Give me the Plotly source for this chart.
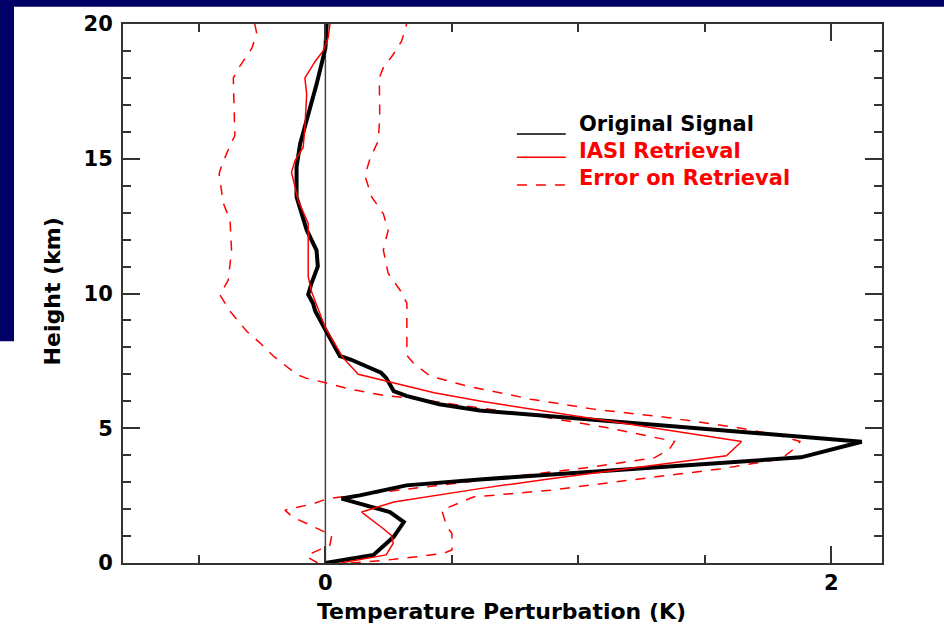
import plotly.graph_objects as go

# Temperature perturbation profiles (K) against height (km)
signal_x = [0.0, 0.19, 0.27, 0.31, 0.255, 0.16, 0.064, 0.136, 0.32, 0.61, 1.88, 2.12,
            0.61, 0.45, 0.32, 0.27, 0.24, 0.22, 0.10, 0.057, 0.0, -0.04, -0.049, -0.068,
            -0.055, -0.03, -0.035, -0.074, -0.114, -0.114, -0.10, -0.081, -0.035, 0.0, 0.005]
signal_y = [0.0, 0.3, 0.97, 1.52, 1.89, 2.14, 2.39, 2.51, 2.88, 3.1, 3.92, 4.5,
            5.66, 5.89, 6.2, 6.38, 6.87, 7.06, 7.55, 7.68, 8.67, 9.34, 9.64, 9.96,
            10.38, 11.0, 11.6, 12.36, 13.58, 14.7, 15.55, 16.16, 17.76, 19.1, 20.0]

iasi_x = [0.06, 0.24, 0.268, 0.26, 0.228, 0.143, 0.27, 0.61, 0.89, 1.585, 1.645, 0.61,
          0.43, 0.24, 0.13, 0.07, 0.0, -0.055, -0.068, -0.068, -0.108, -0.12, -0.134,
          -0.12, -0.088, -0.081, -0.074, -0.081, -0.04, -0.009, 0.011, 0.018]
iasi_y = [0.0, 0.3, 0.73, 1.03, 1.28, 1.89, 2.26, 2.76, 3.13, 3.98, 4.51, 6.01,
          6.32, 6.75, 7.0, 7.61, 8.72, 10.07, 10.63, 12.6, 13.46, 13.95, 14.5,
          14.93, 15.42, 16.16, 17.39, 18.0, 18.62, 19.0, 19.5, 20.0]

err_lo_x = [-0.03, -0.074, -0.055, 0.018, 0.025, -0.048, -0.13, -0.16, -0.048, 0.01,
            0.65, 1.045, 1.30, 1.36, 1.38, 1.27, 1.11, 0.875, 0.32, 0.242, 0.097, 0.0,
            -0.074, -0.114, -0.206, -0.259, -0.311, -0.377, -0.417, -0.384, -0.371,
            -0.377, -0.404, -0.42, -0.41, -0.377, -0.358, -0.364, -0.338, -0.29,
            -0.272, -0.279]
err_lo_y = [0.0, 0.23, 0.36, 0.66, 1.03, 1.34, 1.71, 1.96, 2.2, 2.39,
            3.12, 3.55, 3.90, 4.23, 4.51, 4.72, 5.03, 5.40, 6.14, 6.2, 6.45, 6.69,
            6.85, 7.0, 7.68, 8.17, 8.6, 9.34, 9.95, 10.5, 11.61,
            12.72, 13.36, 14.44, 14.75, 15.49, 15.86, 18.0, 18.44, 19.11,
            19.67, 20.0]

err_hi_x = [0.1, 0.215, 0.36, 0.467, 0.5, 0.5, 0.48, 0.46, 0.585, 0.89, 1.18, 1.56,
            1.80, 1.86, 1.876, 1.80, 1.625, 1.35, 1.06, 0.81, 0.69, 0.558, 0.413,
            0.347, 0.322, 0.322, 0.294, 0.248, 0.229, 0.248, 0.229, 0.183, 0.156,
            0.176, 0.209, 0.215, 0.213, 0.229, 0.268, 0.301, 0.321]
err_hi_y = [0.0, 0.08, 0.23, 0.36, 0.48, 1.1, 1.34, 1.96, 2.45, 2.7, 3.05, 3.49,
            3.86, 4.29, 4.51, 4.72, 5.03, 5.4, 5.71, 6.08, 6.32, 6.57, 6.94,
            7.43, 7.7, 9.64, 10.14, 10.75, 11.61, 12.35, 12.96, 13.58, 14.38,
            14.99, 15.67, 16.53, 18.0, 18.38, 18.87, 19.36, 20.0]

zero_x = [0, 0]
zero_y = [0, 20]

x_ticks = [0, 2]
x_ticktext = ["0", "2"]
y_ticks = [0, 5, 10, 15, 20]
y_ticktext = ["0", "5", "10", "15", "20"]

legend_labels = ["Original Signal", "IASI Retrieval", "Error on Retrieval"]
legend_colors = ["#000000", "#ff0000", "#ff0000"]
legend_dash = ["solid", "solid", "10px,9px"]

RED = "#ff0000"
NAVY = "#000066"
FONT = "DejaVu Sans"
DASH = "10px,9px"

fig = go.Figure()
fig.add_trace(go.Scatter(x=zero_x, y=zero_y, mode="lines",
                         line=dict(color="#444444", width=1.5)))
fig.add_trace(go.Scatter(x=err_lo_x, y=err_lo_y, mode="lines",
                         line=dict(color=RED, width=1.5, dash=DASH)))
fig.add_trace(go.Scatter(x=err_hi_x, y=err_hi_y, mode="lines",
                         line=dict(color=RED, width=1.5, dash=DASH)))
fig.add_trace(go.Scatter(x=signal_x, y=signal_y, mode="lines",
                         line=dict(color="#000000", width=4)))
fig.add_trace(go.Scatter(x=iasi_x, y=iasi_y, mode="lines",
                         line=dict(color=RED, width=1.5)))

# Hand-drawn key in the upper right of the plot
shapes = []
annotations = []
key_x0, key_x1, key_text_x = 0.757, 0.95, 0.995
key_line_y = [15.92, 15.06, 14.03]
key_text_y = [16.3, 15.3, 14.27]
for lab, col, dsh, ly, ty in zip(legend_labels, legend_colors, legend_dash,
                                 key_line_y, key_text_y):
    shapes.append(dict(type="line", xref="x", yref="y", x0=key_x0, x1=key_x1,
                       y0=ly, y1=ly, line=dict(color=col, width=1.5, dash=dsh)))
    annotations.append(dict(x=key_text_x, y=ty, xref="x", yref="y",
                            text="<b>%s</b>" % lab,
                            showarrow=False, xanchor="left", yanchor="middle",
                            font=dict(family=FONT, size=21, color=col)))

# Axis titles
annotations.append(dict(x=0.4993, y=-0.0904, xref="paper", yref="paper",
                        text="<b>Temperature Perturbation (K)</b>", showarrow=False,
                        xanchor="center", yanchor="middle",
                        font=dict(family=FONT, size=22, color="#000")))
annotations.append(dict(x=-0.0935, y=0.504, xref="paper", yref="paper",
                        text="<b>Height (km)</b>", showarrow=False, textangle=-90,
                        xanchor="center", yanchor="middle",
                        font=dict(family=FONT, size=22, color="#000")))

# Navy slide frame along the top and left edges
shapes.append(dict(type="rect", xref="paper", yref="paper", x0=-0.17, x1=1.09,
                   y0=1.032, y1=1.05, fillcolor=NAVY, line=dict(width=0), layer="below"))
shapes.append(dict(type="rect", xref="paper", yref="paper", x0=-0.17, x1=-0.1436,
                   y0=0.4114, y1=1.05, fillcolor=NAVY, line=dict(width=0), layer="below"))

axis_common = dict(showgrid=False, zeroline=False, showline=True, linecolor="#333333",
                   linewidth=2, mirror="allticks", ticks="inside", ticklen=17,
                   tickwidth=2, tickcolor="#333333",
                   tickfont=dict(family=FONT, size=21, color="#000", weight="bold"))

fig.update_layout(
    width=944, height=644,
    margin=dict(l=123, r=62, t=21, b=81),
    paper_bgcolor="white", plot_bgcolor="white",
    showlegend=False,
    shapes=shapes, annotations=annotations,
    xaxis=dict(range=[-0.8, 2.2], tickmode="array", tickvals=x_ticks,
               ticktext=x_ticktext,
               minor=dict(dtick=0.5, tick0=0, ticks="inside", ticklen=8,
                          tickwidth=2, tickcolor="#333333"),
               **axis_common),
    yaxis=dict(range=[0, 20], tickmode="array", tickvals=y_ticks,
               ticktext=y_ticktext, ticklabelstandoff=4,
               minor=dict(dtick=1, tick0=0, ticks="inside", ticklen=8,
                          tickwidth=2, tickcolor="#333333"),
               **axis_common),
)

fig.write_html("out.html")
